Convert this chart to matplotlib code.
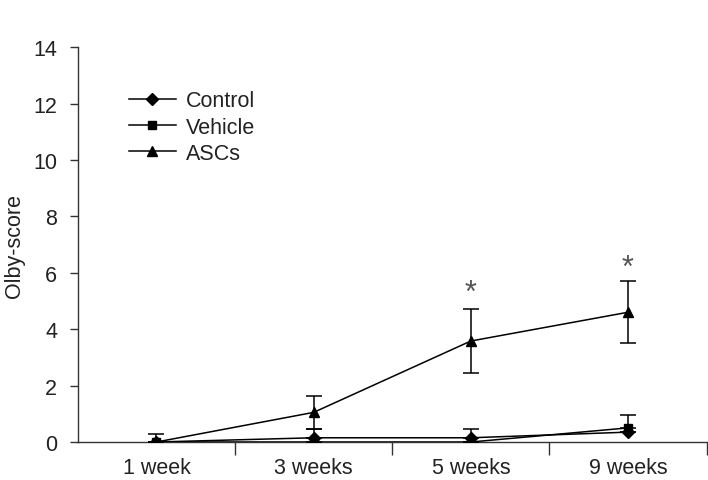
import matplotlib
matplotlib.use("Agg")
import matplotlib.pyplot as plt
from matplotlib.lines import Line2D
import numpy as np

plt.rcParams['font.family'] = ['Liberation Sans', 'DejaVu Sans']

categories = ["1 week", "3 weeks", "5 weeks", "9 weeks"]
control = [0.0, 0.15, 0.15, 0.35]
control_err = [0.0, 0.0, 0.3, 0.0]
vehicle = [0.0, 0.0, 0.0, 0.5]
vehicle_err = [0.3, 0.45, 0.0, 0.45]
ascs = [0.0, 1.05, 3.58, 4.6]
ascs_err = [0.0, 0.58, 1.15, 1.1]
star_y = [None, None, 4.75, 5.65]
yticks = [0, 2, 4, 6, 8, 10, 12, 14]

fig = plt.figure(figsize=(7.08, 4.81), dpi=100)
ax = fig.add_axes([0.110, 0.079, 0.888, 0.821])
x = np.arange(len(categories))
txtc = '#222222'
fs = 15.5

ax.errorbar(x, control, yerr=[np.zeros(4), control_err], color='black', marker='D',
            markersize=6, lw=1.1, capsize=6, elinewidth=1.1, capthick=1.1, zorder=3)
ax.errorbar(x, vehicle, yerr=[np.zeros(4), vehicle_err], color='black', marker='s',
            markersize=6, lw=1.1, capsize=6, elinewidth=1.1, capthick=1.1, zorder=3)
ax.errorbar(x, ascs, yerr=ascs_err, color='black', marker='^',
            markersize=7, lw=1.1, capsize=6, elinewidth=1.1, capthick=1.1, zorder=3)

for xi, sy in zip(x, star_y):
    if sy is not None:
        ax.text(xi, sy, '*', ha='center', va='bottom', fontsize=22, color='#555555')

ax.set_xlim(-0.5, 3.5)
ax.set_ylim(0, 14)
ax.set_yticks(yticks)
ax.set_xticks(x)
ax.set_xticklabels(categories)
ax.set_xticks(np.arange(4) + 0.5, minor=True)
ax.tick_params(axis='x', which='major', length=0, pad=11, labelsize=fs, labelcolor=txtc)
ax.tick_params(axis='x', which='minor', length=9, width=1, direction='out', color='#333333')
ax.tick_params(axis='y', length=6, width=1, direction='out', pad=9, labelsize=fs, labelcolor=txtc, color='#333333')
for s in ['top', 'right']:
    ax.spines[s].set_visible(False)
for s in ['left', 'bottom']:
    ax.spines[s].set_color('#333333')
    ax.spines[s].set_linewidth(1)
ax.set_ylabel('Olby-score', fontsize=fs, color=txtc, labelpad=6)

handles = [
    Line2D([], [], color='black', marker='D', markersize=6, lw=1.1),
    Line2D([], [], color='black', marker='s', markersize=6, lw=1.1),
    Line2D([], [], color='black', marker='^', markersize=7, lw=1.1),
]
leg = ax.legend(handles, ['Control', 'Vehicle', 'ASCs'], loc='upper left',
                bbox_to_anchor=(0.05, 0.94), frameon=False, fontsize=fs,
                handlelength=2.2, labelspacing=0.25, handletextpad=0.45)
for t in leg.get_texts():
    t.set_color(txtc)

fig.savefig('out.png', dpi=100)
